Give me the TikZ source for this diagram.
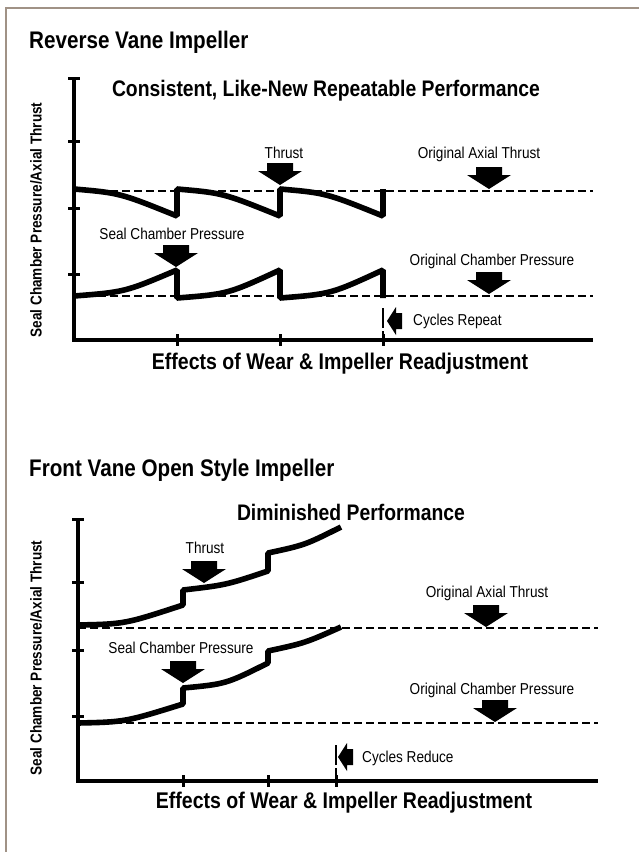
\documentclass[tikz,border=0pt]{standalone}
\usepackage{fontspec}
\setmainfont{Liberation Sans}[FakeStretch=0.86]
\definecolor{framegray}{RGB}{160,146,134}
\begin{document}
\begin{tikzpicture}[x=1pt,y=-1pt,
  axisline/.style={line width=4.8pt, line join=miter},
  tickmark/.style={line width=3pt},
  curve/.style={line width=5.6pt, line join=bevel},
  refline/.style={line width=2.6pt, dash pattern=on 8pt off 4pt},
  cyclemark/.style={line width=2.4pt, dash pattern=on 20pt off 3pt},
  sectitle/.style={font=\bfseries\fontsize{24}{28}\selectfont, anchor=base west, inner sep=0pt},
  charttitle/.style={font=\bfseries\fontsize{22.5}{26}\selectfont, anchor=base, inner sep=0pt},
  xlabel/.style={font=\bfseries\fontsize{22.7}{26}\selectfont, anchor=base, inner sep=0pt},
  ylabel/.style={font=\bfseries\fontsize{15.8}{18}\selectfont, rotate=90, anchor=center, inner sep=0pt},
  smalllabel/.style={font=\fontsize{15.8}{18}\selectfont, anchor=base, inner sep=0pt},
  sidelabel/.style={font=\fontsize{15.8}{18}\selectfont, anchor=base west, inner sep=0pt},
  downarrow/.pic={\fill (0,0) -- (-22,-14) -- (-13,-14) -- (-13,-22) -- (13,-22) -- (13,-14) -- (22,-14) -- cycle;},
  leftarrow/.pic={\fill (0,0) -- (9,-14) -- (9,-8) -- (15,-8) -- (15,8) -- (9,8) -- (9,14) -- cycle;},
]
\useasboundingbox (0,0) rectangle (639,852);

% outer frame (top and left edges only)
\draw[draw=framegray, line width=1.5pt] (639,8) -- (6,8) -- (6,852);

% ---------------- Reverse vane impeller ----------------
\node[sectitle] (titleA) at (29,48) {Reverse Vane Impeller};
\node[charttitle] (perfA) at (326,96.5) {Consistent, Like-New Repeatable Performance};
\node[ylabel] (yA) at (36,220) {Seal Chamber Pressure/Axial Thrust};
\node[xlabel] (xA) at (340,369.5) {Effects of Wear \& Impeller Readjustment};

% axes and ticks
\draw[axisline] (74,78) -- (74,340) -- (593,340);
\draw[tickmark] (68,78) -- (80,78);
\foreach \ty in {141,208,274} \draw[tickmark] (68,\ty) -- (80,\ty);
\foreach \tx in {177,280,383} \draw[tickmark] (\tx,334) -- (\tx,346);

% original levels
\draw[refline] (74,191) -- (593,191);
\draw[refline] (74,296) -- (593,296);

% thrust and seal chamber pressure cycles
\draw[curve] (74,189) .. controls (120,193) .. (177,216) -- (177,189)
  .. controls (223,193) .. (280,216) -- (280,189)
  .. controls (326,193) .. (383,216) -- (383,189);
\draw[curve] (74,296) .. controls (125,292) .. (177,270) -- (177,298)
  .. controls (228,294) .. (280,270) -- (280,298)
  .. controls (331,294) .. (383,270) -- (383,298);

% labels and pointers
\node[smalllabel] (thrustA) at (284,158) {Thrust};
\pic (pThrustA) at (280,185) {downarrow};
\node[smalllabel] (sealA) at (172,239) {Seal Chamber Pressure};
\pic (pSealA) at (176,267) {downarrow};
\node[smalllabel] (oatA) at (479,158) {Original Axial Thrust};
\pic (pOatA) at (489,189) {downarrow};
\node[smalllabel] (ocpA) at (492,265) {Original Chamber Pressure};
\pic (pOcpA) at (489,294) {downarrow};
\draw[cyclemark] (383,308) -- (383,346);
\pic (pCycA) at (387,321) {leftarrow};
\node[sidelabel] (cycA) at (413,325) {Cycles Repeat};

% ---------------- Front vane open style impeller ----------------
\node[sectitle] (titleB) at (29,476.5) {Front Vane Open Style Impeller};
\node[charttitle] (perfB) at (351,520) {Diminished Performance};
\node[ylabel] (yB) at (36,658) {Seal Chamber Pressure/Axial Thrust};
\node[xlabel] (xB) at (344,808.5) {Effects of Wear \& Impeller Readjustment};

% axes and ticks
\draw[axisline] (78,519) -- (78,781) -- (598,781);
\draw[tickmark] (72,519) -- (84,519);
\foreach \ty in {582,650,716} \draw[tickmark] (72,\ty) -- (84,\ty);
\foreach \tx in {183,268,336} \draw[tickmark] (\tx,775) -- (\tx,787);

% original levels
\draw[refline] (78,628) -- (598,628);
\draw[refline] (78,723) -- (598,723);

% rising thrust and seal chamber pressure
\draw[curve] (78,625) .. controls (125,624) .. (183,605) -- (183,590)
  .. controls (226,585) .. (268,571) -- (268,553)
  .. controls (305,545) .. (341,527);
\draw[curve] (78,723) .. controls (125,722) .. (183,704) -- (183,688)
  .. controls (226,684) .. (268,663) -- (268,651)
  .. controls (305,643) .. (341,627);

% labels and pointers
\node[smalllabel] (thrustB) at (205,553) {Thrust};
\pic (pThrustB) at (204,583) {downarrow};
\node[smalllabel] (sealB) at (181,653) {Seal Chamber Pressure};
\pic (pSealB) at (183,683) {downarrow};
\node[smalllabel] (oatB) at (487,597) {Original Axial Thrust};
\pic (pOatB) at (486,627) {downarrow};
\node[smalllabel] (ocpB) at (492,694) {Original Chamber Pressure};
\pic (pOcpB) at (495,722) {downarrow};
\draw[cyclemark] (336,745) -- (336,787);
\pic (pCycB) at (338,757) {leftarrow};
\node[sidelabel] (cycB) at (362,762) {Cycles Reduce};
\end{tikzpicture}
\end{document}
